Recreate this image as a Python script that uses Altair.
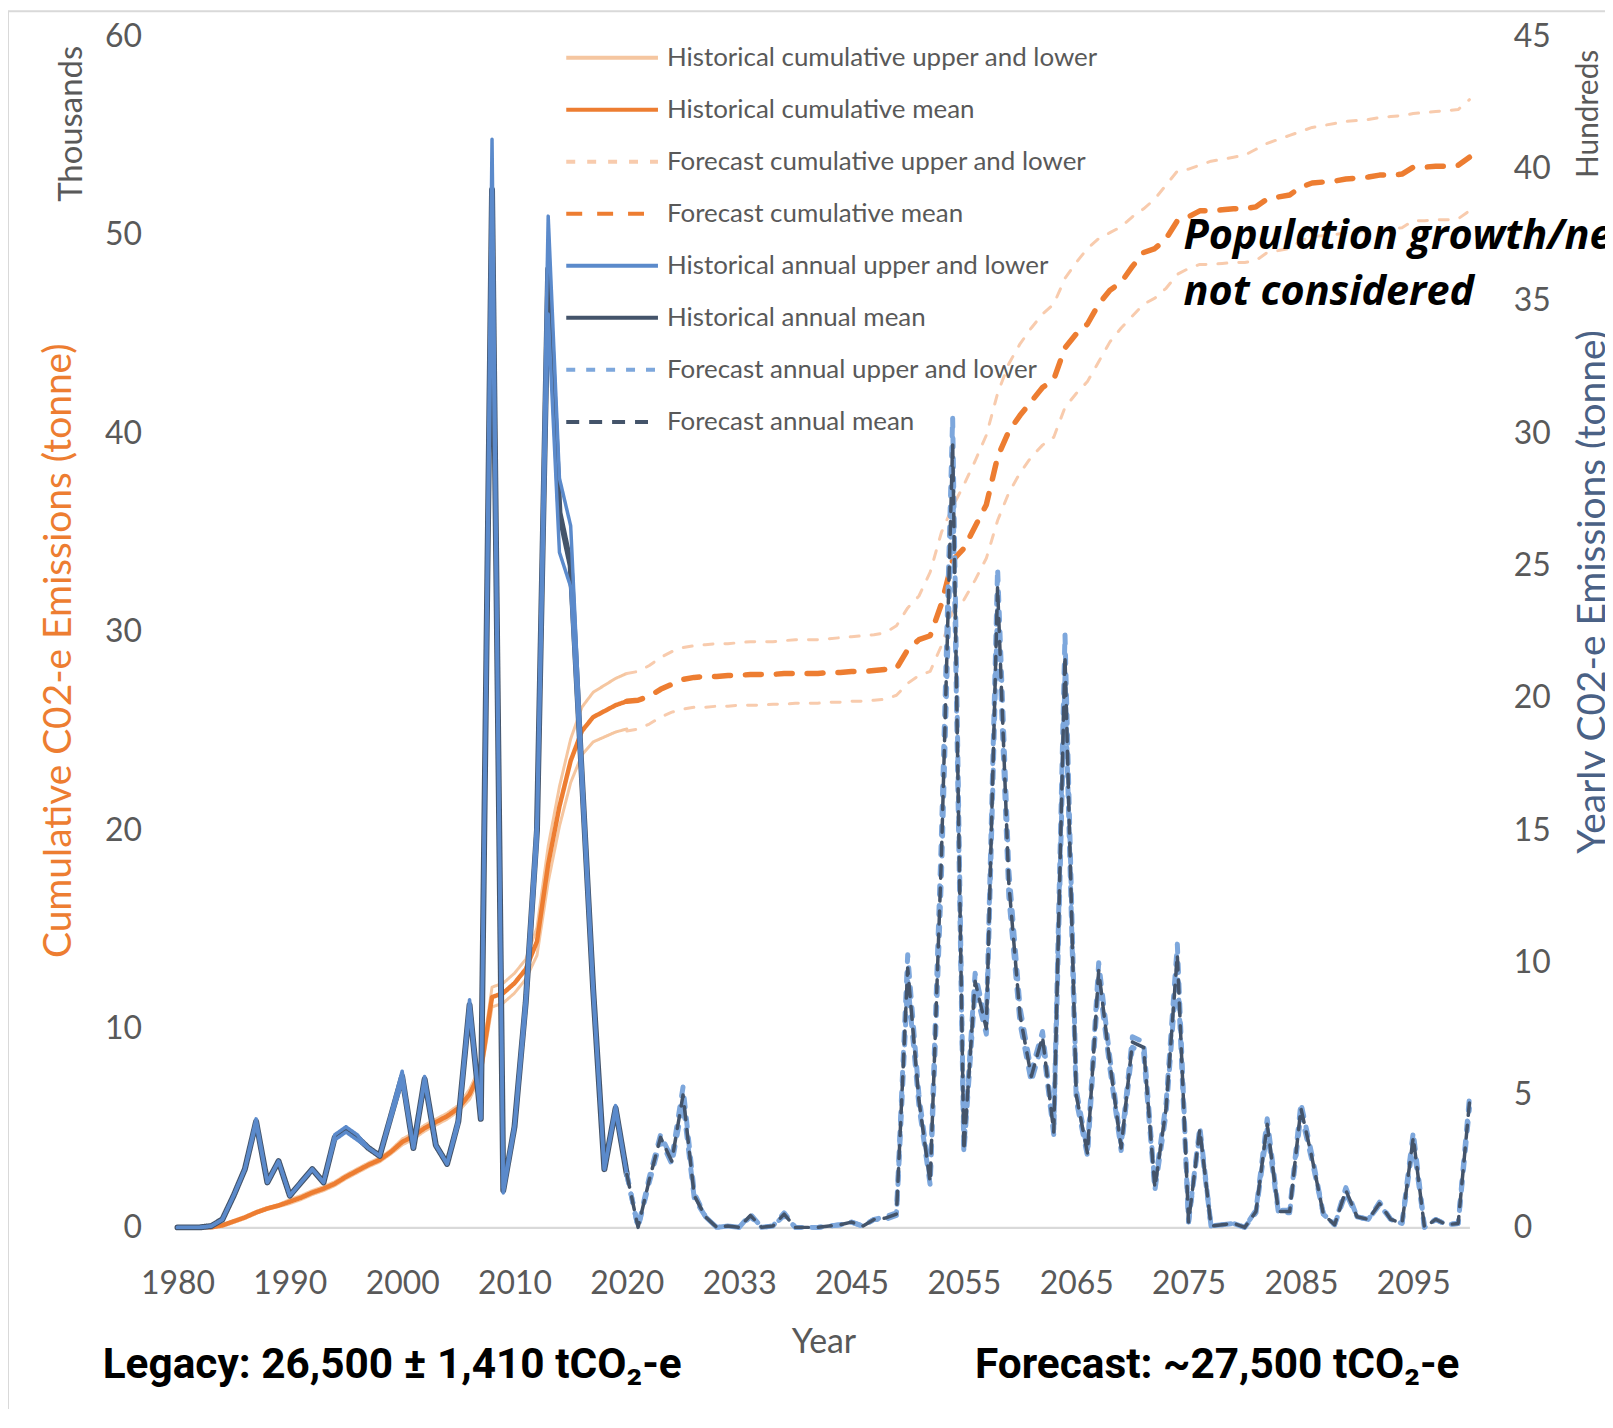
import altair as alt
import pandas as pd

# ---------------- data ----------------
years = ([str(y) for y in range(1980, 2021)] + [str(y) for y in range(2024, 2034)]
         + [str(y) for y in range(2036, 2046)] + [str(y) for y in range(2046, 2101)])
tick_years = ["1980", "1990", "2000", "2010", "2020", "2033", "2045", "2055", "2065", "2075", "2085", "2095"]
hist_years = years[:41]
fc_years = years[40:]

series_names = [
    "Historical cumulative upper and lower",
    "Historical cumulative mean",
    "Forecast cumulative upper and lower",
    "Forecast cumulative mean",
    "Historical annual upper and lower",
    "Historical annual mean",
    "Forecast annual upper and lower",
    "Forecast annual mean",
]
series_colors = ["#F5C6A0", "#ED7D31", "#F8CBAD", "#ED7D31", "#5B8ACB", "#44546A", "#7DA7DC", "#44546A"]
series_dashes = [[1, 0], [1, 0], [9, 12], [16, 15], [1, 0], [1, 0], [9, 11], [13, 10]]

# cumulative, thousands of tonnes (left axis)
hist_cum_mean = [0, 0, 0, 0, 0.1, 0.3, 0.5, 0.75, 0.95, 1.1,
                 1.3, 1.5, 1.75, 1.95, 2.2, 2.55, 2.85, 3.15, 3.4, 3.8,
                 4.3, 4.6, 5.0, 5.3, 5.6, 6.0, 6.7, 7.9, 11.6, 11.8,
                 12.3, 13.0, 14.4, 18.3, 21.2, 23.5, 25.0, 25.7, 26.0, 26.3,
                 26.5]
hist_cum_upper = [0, 0, 0, 0, 0.15, 0.35, 0.55, 0.8, 1.0, 1.15,
                  1.4, 1.6, 1.85, 2.05, 2.3, 2.65, 2.95, 3.25, 3.5, 3.9,
                  4.45, 4.75, 5.15, 5.45, 5.75, 6.15, 6.95, 8.15, 12.1, 12.3,
                  12.8, 13.5, 15.1, 19.2, 22.2, 24.6, 26.2, 26.95, 27.3, 27.65,
                  27.9]
hist_cum_lower = [0, 0, 0, 0, 0.05, 0.25, 0.45, 0.7, 0.9, 1.05,
                  1.2, 1.4, 1.65, 1.85, 2.1, 2.45, 2.75, 3.05, 3.3, 3.7,
                  4.15, 4.45, 4.85, 5.15, 5.45, 5.85, 6.45, 7.65, 11.1, 11.3,
                  11.8, 12.5, 13.7, 17.4, 20.2, 22.4, 23.8, 24.45, 24.7, 24.95,
                  25.1]
fc_cum_mean = [26.5, 26.55, 26.75, 27.1, 27.35, 27.6, 27.7, 27.75, 27.75, 27.8,
               27.8, 27.85, 27.85, 27.85, 27.9, 27.9, 27.9, 27.9, 27.95, 27.95,
               28.0, 28.0, 28.05, 28.1, 28.15, 29.1, 29.6, 29.8, 31.4, 33.6,
               34.2, 35.3, 36.4, 38.8, 40.1, 40.9, 41.6, 42.3, 42.7, 44.3,
               45.0, 45.5, 46.5, 47.2, 47.6, 48.4, 49.1, 49.3, 49.8, 50.7,
               50.9, 51.2, 51.2, 51.25, 51.3, 51.3, 51.4, 51.8, 51.9, 52.0,
               52.4, 52.6, 52.65, 52.7, 52.8, 52.85, 52.9, 53.0, 53.0, 53.05,
               53.4, 53.4, 53.45, 53.45, 53.5, 53.9]
fc_cum_upper = [27.9, 28.0, 28.3, 28.7, 29.0, 29.2, 29.3, 29.35, 29.4, 29.4,
                29.45, 29.5, 29.5, 29.5, 29.55, 29.6, 29.6, 29.6, 29.65, 29.7,
                29.75, 29.8, 29.85, 29.95, 30.3, 31.2, 31.8, 33.0, 35.0, 36.3,
                37.4, 38.6, 39.9, 42.0, 43.5, 44.5, 45.3, 46.0, 46.5, 47.8,
                48.6, 49.3, 49.8, 50.1, 50.4, 50.9, 51.3, 51.8, 52.5, 53.2,
                53.3, 53.5, 53.7, 53.8, 53.9, 54.0, 54.3, 54.6, 54.8, 55.0,
                55.2, 55.4, 55.5, 55.6, 55.7, 55.75, 55.8, 55.9, 55.95, 56.0,
                56.1, 56.15, 56.2, 56.25, 56.3, 56.8]
fc_cum_lower = [25.0, 25.1, 25.35, 25.7, 25.95, 26.1, 26.2, 26.2, 26.25, 26.25,
                26.3, 26.3, 26.3, 26.35, 26.35, 26.4, 26.4, 26.4, 26.45, 26.45,
                26.5, 26.5, 26.55, 26.6, 26.8, 27.4, 27.8, 28.0, 29.3, 31.0,
                31.6, 32.6, 33.7, 35.6, 37.0, 38.0, 38.8, 39.4, 39.8, 41.3,
                42.0, 42.6, 43.6, 44.6, 45.3, 45.9, 46.5, 46.8, 47.3, 48.0,
                48.3, 48.5, 48.5, 48.55, 48.6, 48.6, 48.7, 49.1, 49.2, 49.3,
                49.7, 49.9, 49.95, 50.0, 50.1, 50.15, 50.2, 50.3, 50.3, 50.35,
                50.7, 50.7, 50.75, 50.75, 50.8, 51.2]

# annual, hundreds of tonnes (right axis)
hist_ann_mean = [0, 0, 0, 0.05, 0.3, 1.2, 2.2, 4.0, 1.7, 2.5,
                 1.2, 1.7, 2.2, 1.7, 3.4, 3.7, 3.4, 3.0, 2.7, 4.2,
                 5.7, 3.0, 5.6, 3.1, 2.4, 4.0, 8.4, 4.1, 39.2, 1.4,
                 3.8, 8.5, 15.0, 36.2, 27.0, 25.0, 17.0, 9.0, 2.2, 4.5,
                 2.0]
hist_ann_upper = [0, 0, 0, 0.05, 0.3, 1.2, 2.2, 4.1, 1.7, 2.5,
                  1.2, 1.7, 2.2, 1.7, 3.5, 3.8, 3.5, 3.0, 2.7, 4.3,
                  5.9, 3.0, 5.7, 3.1, 2.4, 4.1, 8.6, 4.1, 41.1, 1.5,
                  3.9, 8.8, 15.5, 38.2, 28.3, 26.5, 17.5, 9.2, 2.2, 4.6,
                  2.0]
hist_ann_lower = [0, 0, 0, 0.05, 0.3, 1.2, 2.2, 3.9, 1.7, 2.5,
                  1.2, 1.7, 2.2, 1.7, 3.3, 3.6, 3.3, 3.0, 2.7, 4.1,
                  5.5, 3.0, 5.5, 3.1, 2.4, 3.9, 8.2, 4.1, 37.5, 1.3,
                  3.7, 8.2, 14.5, 34.5, 25.5, 24.2, 16.5, 8.8, 2.2, 4.4,
                  2.0]
fc_ann_mean = [2.0, 0.0, 1.8, 3.4, 2.5, 5.0, 1.2, 0.4, 0.0, 0.05,
               0.0, 0.45, 0.0, 0.05, 0.5, 0.0, 0.0, 0.0, 0.05, 0.1,
               0.2, 0.05, 0.3, 0.35, 0.5, 9.8, 4.8, 1.7, 14.0, 29.6,
               2.9, 9.3, 7.5, 24.2, 13.0, 8.0, 5.7, 7.2, 3.6, 21.6,
               5.0, 2.8, 9.7, 6.2, 3.0, 7.0, 6.8, 1.5, 4.5, 10.3,
               0.2, 3.7, 0.05, 0.1, 0.15, 0.0, 0.6, 3.9, 0.6, 0.6,
               4.5, 2.6, 0.5, 0.1, 1.4, 0.4, 0.3, 0.9, 0.3, 0.15,
               3.4, 0.0, 0.3, 0.1, 0.15, 4.7]
fc_ann_upper = [2.0, 0.0, 1.9, 3.5, 2.6, 5.3, 1.3, 0.4, 0.0, 0.05,
                0.0, 0.5, 0.0, 0.05, 0.55, 0.0, 0.0, 0.0, 0.05, 0.1,
                0.2, 0.05, 0.3, 0.4, 0.55, 10.3, 5.0, 1.8, 14.8, 30.6,
                3.0, 9.6, 7.7, 24.9, 13.5, 8.3, 5.9, 7.4, 3.7, 22.4,
                5.2, 2.9, 10.0, 6.4, 3.1, 7.2, 7.0, 1.6, 4.7, 10.7,
                0.2, 3.8, 0.05, 0.1, 0.15, 0.0, 0.65, 4.1, 0.65, 0.65,
                4.7, 2.7, 0.5, 0.1, 1.5, 0.4, 0.3, 0.95, 0.3, 0.15,
                3.6, 0.0, 0.3, 0.1, 0.15, 4.9]
fc_ann_lower = [2.0, 0.0, 1.7, 3.3, 2.4, 4.7, 1.1, 0.4, 0.0, 0.05,
                0.0, 0.4, 0.0, 0.05, 0.45, 0.0, 0.0, 0.0, 0.05, 0.1,
                0.2, 0.05, 0.3, 0.3, 0.45, 9.3, 4.6, 1.6, 13.2, 28.6,
                2.8, 9.0, 7.3, 23.5, 12.5, 7.7, 5.5, 7.0, 3.5, 20.8,
                4.8, 2.7, 9.4, 6.0, 2.9, 6.8, 6.6, 1.4, 4.3, 9.9,
                0.2, 3.6, 0.05, 0.1, 0.15, 0.0, 0.55, 3.7, 0.55, 0.55,
                4.3, 2.5, 0.5, 0.1, 1.3, 0.4, 0.3, 0.85, 0.3, 0.15,
                3.2, 0.0, 0.3, 0.1, 0.15, 4.5]

legacy_text = "Legacy: 26,500 \u00b1 1,410 tCO\u2082-e"
forecast_text = "Forecast: ~27,500 tCO\u2082-e"
note_lines = ["Population growth/new development", "not considered"]


def frame(yrs, vals, series, line):
    return pd.DataFrame({"year": yrs, "value": vals, "series": series,
                         "line": line, "idx": list(range(len(yrs)))})


# ---------------- encodings ----------------
FONT = "Lato"
GREY = "#595959"
W, H = 1296, 1195

X = alt.X("year:O", scale=alt.Scale(type="point", domain=years, padding=0),
          axis=alt.Axis(values=tick_years, labelAngle=0, title="Year", ticks=False, grid=False,
                        domainColor="#D9D9D9", domainWidth=2.5, labelFont=FONT, labelFontSize=32,
                        labelColor=GREY, labelBaseline="middle", labelPadding=56,
                        titleFont=FONT, titleFontSize=34, titleFontWeight="normal", titleColor=GREY,
                        titleX=W / 2, titleY=116, titleBaseline="middle", titleAlign="center",
                        labelOverlap=False))

Y_left = alt.Y("value:Q", scale=alt.Scale(domain=[0, 60], nice=False),
               axis=alt.Axis(orient="left", values=[0, 10, 20, 30, 40, 50, 60], format="d",
                             title="Cumulative C02-e Emissions (tonne)", ticks=False, domain=False,
                             grid=False, labelFont=FONT, labelFontSize=32, labelColor=GREY,
                             labelPadding=36, titleFont=FONT, titleFontSize=39,
                             titleFontWeight="normal", titleColor="#ED7D31", titleAngle=270,
                             titleX=-119, titleY=616, titleAlign="center", titleBaseline="middle"))

Y_right = alt.Y("value:Q", scale=alt.Scale(domain=[0, 45], nice=False),
                axis=alt.Axis(orient="right", values=[0, 5, 10, 15, 20, 25, 30, 35, 40, 45], format="d",
                              title="Yearly C02-e Emissions (tonne)", ticks=False, domain=False,
                              grid=False, labelFont=FONT, labelFontSize=32, labelColor=GREY,
                              labelPadding=44, titleFont=FONT, titleFontSize=39,
                              titleFontWeight="normal", titleColor="#4A6185", titleAngle=270,
                              titleX=124, titleY=557, titleAlign="center", titleBaseline="middle"))

COLOR = alt.Color("series:N", scale=alt.Scale(domain=series_names, range=series_colors), title=None)
DASH = alt.StrokeDash("series:N", scale=alt.Scale(domain=series_names, range=series_dashes), title=None)


def line_layer(df, y, width):
    return alt.Chart(df).mark_line(strokeWidth=width, strokeCap="round", strokeJoin="round").encode(
        x=X, y=y, color=COLOR, strokeDash=DASH, detail="line:N", order=alt.Order("idx:Q"))


cum_hist_ul = pd.concat([frame(hist_years, hist_cum_upper, series_names[0], "hcu"),
                         frame(hist_years, hist_cum_lower, series_names[0], "hcl")])
cum_hist_m = frame(hist_years, hist_cum_mean, series_names[1], "hcm")
cum_fc_ul = pd.concat([frame(fc_years, fc_cum_upper, series_names[2], "fcu"),
                       frame(fc_years, fc_cum_lower, series_names[2], "fcl")])
cum_fc_m = frame(fc_years, fc_cum_mean, series_names[3], "fcm")
ann_hist_ul = pd.concat([frame(hist_years, hist_ann_upper, series_names[4], "hau"),
                         frame(hist_years, hist_ann_lower, series_names[4], "hal")])
ann_hist_m = frame(hist_years, hist_ann_mean, series_names[5], "ham")
ann_fc_ul = pd.concat([frame(fc_years, fc_ann_upper, series_names[6], "fau"),
                       frame(fc_years, fc_ann_lower, series_names[6], "fal")])
ann_fc_m = frame(fc_years, fc_ann_mean, series_names[7], "fam")

note_df = pd.DataFrame({"year": ["2075"], "value": [49.3], "label": ["\n".join(note_lines)]})
note = alt.Chart(note_df).mark_text(align="left", baseline="alphabetic", dx=-5, font="Open Sans",
                                    fontStyle="italic", fontWeight="bold", fontSize=41.5,
                                    lineHeight=57, lineBreak="\n", color="black").encode(
    x=X, y=Y_left, text="label:N")

left = alt.layer(
    line_layer(cum_hist_ul, Y_left, 3),
    line_layer(cum_hist_m, Y_left, 4.5),
    line_layer(cum_fc_ul, Y_left, 3),
    line_layer(cum_fc_m, Y_left, 5.5),
    note,
)
right = alt.layer(
    line_layer(ann_hist_m, Y_right, 6),
    line_layer(ann_hist_ul, Y_right, 3.5),
    line_layer(ann_fc_ul, Y_right, 5),
    line_layer(ann_fc_m, Y_right, 3.5),
)

one = pd.DataFrame({"a": [0]})
thousands = alt.Chart(one).mark_text(text="Thousands", angle=270, font=FONT, fontSize=33, color=GREY,
                                     align="center", baseline="middle").encode(
    x=alt.value(-106), y=alt.value(88))
hundreds = alt.Chart(one).mark_text(text="Hundreds", angle=270, font=FONT, fontSize=30, color=GREY,
                                    align="center", baseline="middle").encode(
    x=alt.value(W + 120), y=alt.value(78))
legacy = alt.Chart(one).mark_text(text=legacy_text, font="Roboto", fontWeight="bold",
                                  fontSize=42.5, color="black", align="left", baseline="alphabetic").encode(
    x=alt.value(-75), y=alt.value(1346))
forecast = alt.Chart(one).mark_text(text=forecast_text, font="Roboto", fontWeight="bold",
                                    fontSize=42.5, color="black", align="left", baseline="alphabetic").encode(
    x=alt.value(800), y=alt.value(1346))
border = alt.Chart(one).mark_rect(fillOpacity=0, stroke="#D9D9D9", strokeWidth=2).encode(
    x=alt.value(-170), x2=alt.value(W + 300), y=alt.value(-25), y2=alt.value(1420))

chart = alt.layer(border, left, right, thousands, hundreds, legacy, forecast).resolve_scale(
    y="independent"
).properties(
    width=W, height=H,
    padding={"left": 170, "top": 26, "right": 136, "bottom": 180},
    autosize=alt.AutoSizeParams(type="none"),
).configure_view(stroke=None).configure_legend(
    orient="none", legendX=388, legendY=6.6, symbolType="stroke", symbolSize=8464,
    symbolStrokeWidth=4, labelFontSize=26, labelFont=FONT, labelColor=GREY, labelLimit=900,
    clipHeight=30, rowPadding=22.2, labelOffset=7, padding=0,
)

chart.save("out.html", embed_options={"renderer": "svg", "actions": False})
